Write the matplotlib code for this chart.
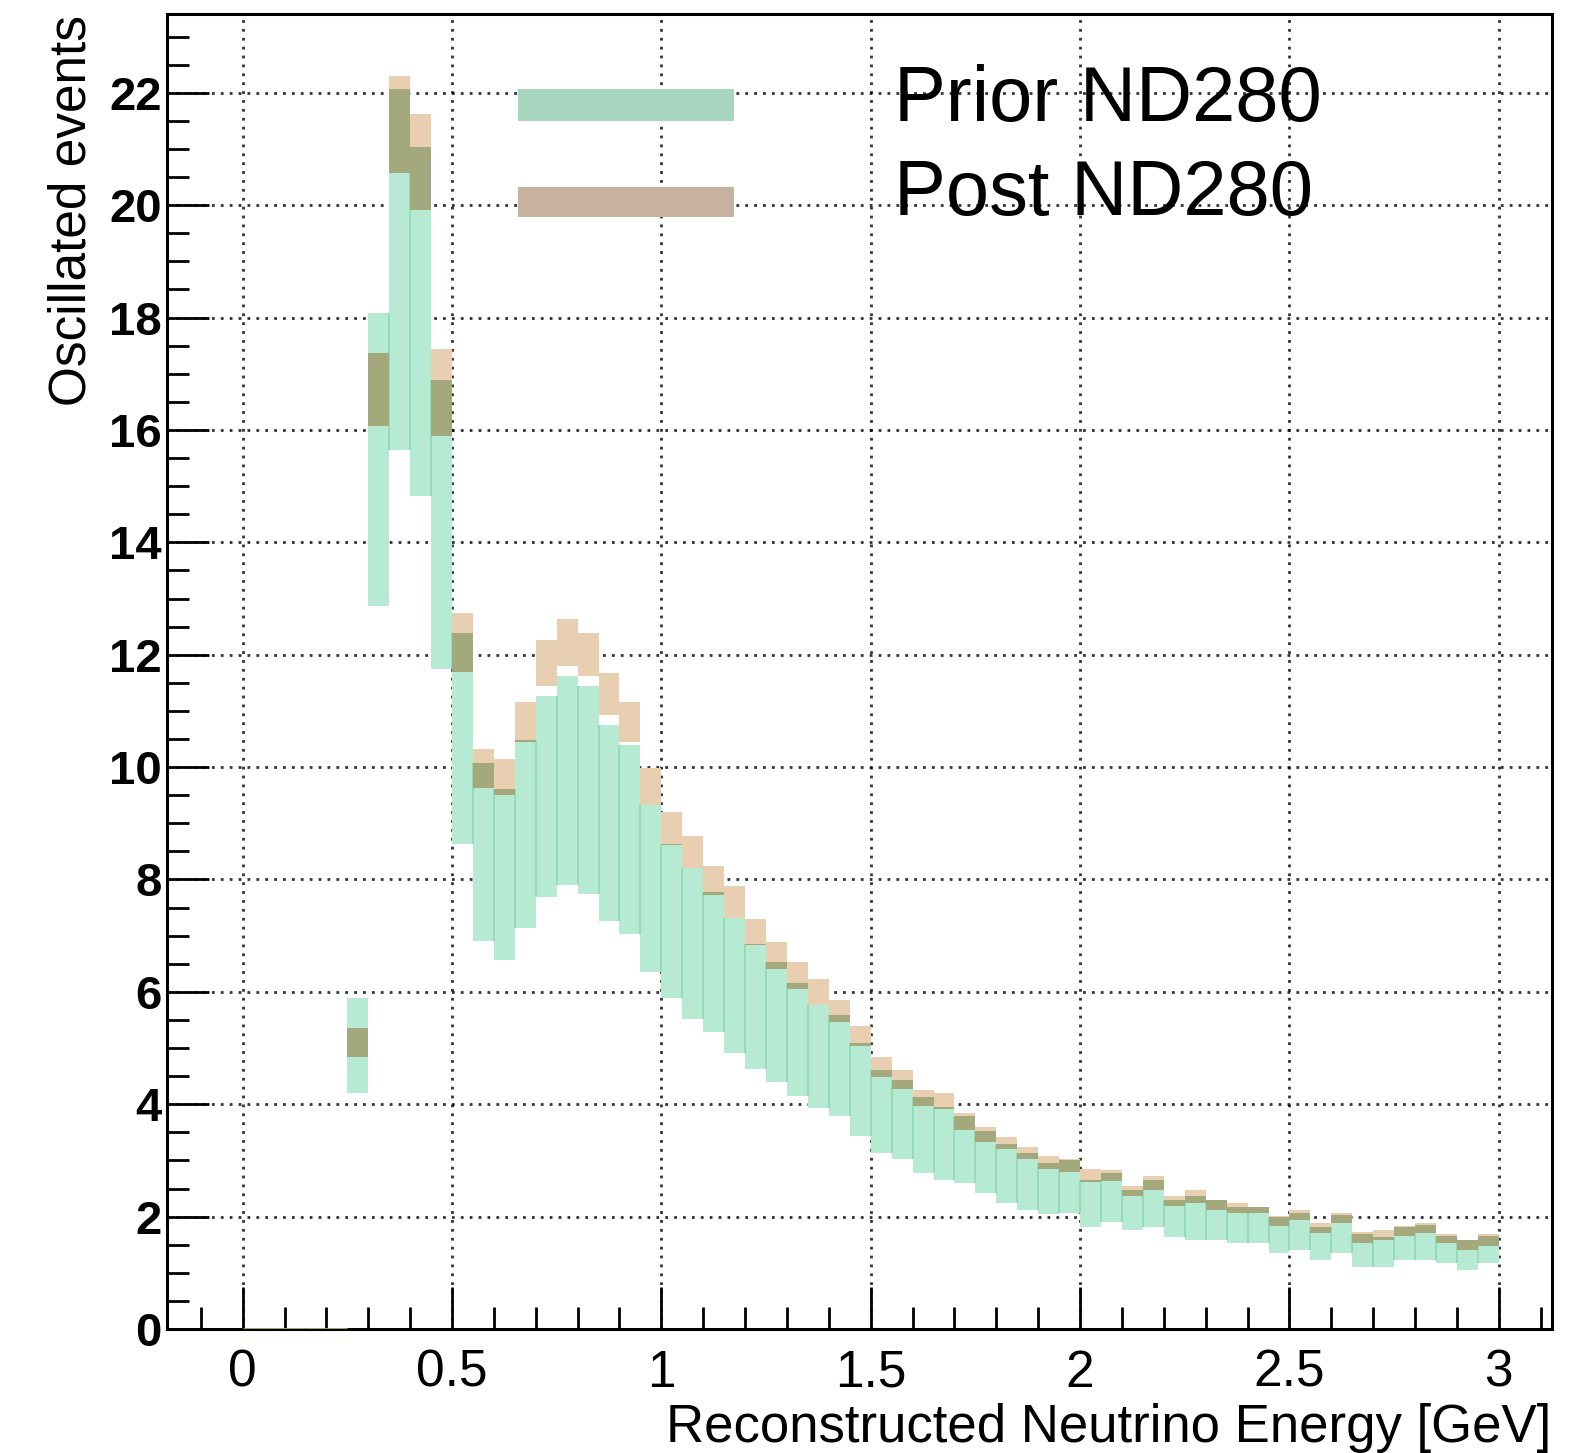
import numpy as np
import matplotlib
matplotlib.use("Agg")
import matplotlib.pyplot as plt
from matplotlib.patches import Rectangle
from matplotlib.ticker import MultipleLocator

# bins of 0.05 GeV from 0 to 3
bin_width = 0.05
bin_left = np.round(np.arange(0.0, 3.0, bin_width), 2)

prior_lo = [0, 0, 0, 0, 0,
            4.20, 12.87, 15.65, 14.83, 11.75, 8.63, 6.91, 6.56, 7.14, 7.68,
            7.90, 7.74, 7.27, 7.03, 6.36, 5.90, 5.52, 5.28, 4.92, 4.62,
            4.39, 4.14, 3.93, 3.79, 3.43, 3.14, 3.02, 2.78, 2.66, 2.60,
            2.42, 2.24, 2.11, 2.05, 2.06, 1.82, 1.91, 1.76, 1.82, 1.64,
            1.59, 1.59, 1.53, 1.53, 1.35, 1.40, 1.23, 1.35, 1.11, 1.11,
            1.23, 1.23, 1.17, 1.05, 1.17]
prior_hi = [0, 0, 0, 0, 0,
            5.89, 18.08, 22.06, 21.03, 16.89, 12.38, 10.08, 9.61, 10.49, 11.27,
            11.62, 11.44, 10.75, 10.39, 9.32, 8.63, 8.20, 7.77, 7.31, 6.86,
            6.53, 6.16, 5.76, 5.58, 5.09, 4.61, 4.43, 4.13, 3.96, 3.80,
            3.53, 3.30, 3.14, 2.95, 3.00, 2.66, 2.78, 2.47, 2.66, 2.30,
            2.36, 2.29, 2.17, 2.17, 2.00, 2.06, 1.82, 2.03, 1.70, 1.64,
            1.81, 1.85, 1.65, 1.58, 1.65]
post_lo = [0, 0, 0, 0, 0,
           4.85, 16.07, 20.57, 19.92, 15.89, 11.69, 9.63, 9.50, 10.45, 11.44,
           11.80, 11.62, 10.92, 10.45, 9.32, 8.62, 8.20, 7.72, 7.31, 6.83,
           6.41, 6.05, 5.76, 5.46, 5.04, 4.49, 4.27, 3.97, 3.91, 3.55,
           3.32, 3.20, 3.02, 2.85, 2.80, 2.62, 2.63, 2.37, 2.48, 2.19,
           2.25, 2.12, 2.06, 2.06, 1.83, 1.94, 1.71, 1.89, 1.53, 1.58,
           1.65, 1.71, 1.53, 1.41, 1.47]
post_hi = [0, 0, 0, 0, 0,
           5.36, 17.37, 22.29, 21.63, 17.44, 12.74, 10.32, 10.15, 11.15, 12.27,
           12.63, 12.39, 11.68, 11.15, 9.98, 9.21, 8.78, 8.24, 7.89, 7.29,
           6.89, 6.53, 6.23, 5.86, 5.39, 4.85, 4.61, 4.26, 4.20, 3.84,
           3.60, 3.42, 3.24, 3.08, 3.02, 2.84, 2.83, 2.54, 2.72, 2.36,
           2.48, 2.30, 2.24, 2.18, 2.02, 2.12, 1.89, 2.06, 1.72, 1.77,
           1.83, 1.89, 1.70, 1.59, 1.70]

legend_labels = ["Prior ND280", "Post ND280"]

green = "#B7EAD3"
green_edge = "#8FD9B6"
tan = "#E9CFB2"
olive = "#A3A87D"

fig = plt.figure(figsize=(15.93, 14.53), dpi=100)
ax = fig.add_axes([0.105, 0.0853, 0.869, 0.905])

plo = np.array(prior_lo); phi = np.array(prior_hi)
qlo = np.array(post_lo); qhi = np.array(post_hi)

# prior band
ax.bar(bin_left, phi - plo, bottom=plo, width=bin_width, align="edge",
       color=green, linewidth=0, zorder=2)
# posterior band
ax.bar(bin_left, qhi - qlo, bottom=qlo, width=bin_width, align="edge",
       color=tan, linewidth=0, zorder=3)
# overlap region
ov_lo = np.maximum(plo, qlo)
ov_hi = np.minimum(phi, qhi)
ov_h = np.clip(ov_hi - ov_lo, 0, None)
ax.bar(bin_left, ov_h, bottom=ov_lo, width=bin_width, align="edge",
       color=olive, linewidth=0, zorder=4)

# faint lines at bin boundaries inside the prior band
for i in range(1, len(bin_left)):
    lo = max(plo[i], plo[i - 1])
    hi = min(phi[i], phi[i - 1])
    if hi > lo:
        ax.vlines(bin_left[i], lo, hi, color=green_edge, lw=1.2, zorder=2.5)

# empty bins show as a thin line at zero
zero = (phi == 0) & (qhi == 0)
ax.hlines(np.zeros(zero.sum()), bin_left[zero], bin_left[zero] + bin_width,
          color="#B5B84A", lw=2, zorder=5)

ax.set_xlim(-0.18, 3.126)
ax.set_ylim(0, 23.4)

ax.xaxis.set_major_locator(MultipleLocator(0.5))
ax.xaxis.set_minor_locator(MultipleLocator(0.1))
ax.yaxis.set_major_locator(MultipleLocator(2))
ax.yaxis.set_minor_locator(MultipleLocator(0.5))

ax.grid(True, which="major", color="black", linestyle=(0, (1, 2.2)), lw=2.0, alpha=0.8, zorder=1)
ax.set_axisbelow(True)

ax.tick_params(which="both", direction="in", top=False, right=False, width=2)
ax.tick_params(which="major", length=30)
ax.tick_params(which="minor", length=16)
ax.tick_params(axis="y", pad=4)
ax.tick_params(axis="x", pad=14)

xfam = ["Liberation Sans Narrow", "Liberation Sans", "DejaVu Sans"]
yfam = ["Liberation Sans", "DejaVu Sans"]

ax.set_xticks([0, 0.5, 1, 1.5, 2, 2.5, 3])
ax.set_xticklabels(["0", "0.5", "1", "1.5", "2", "2.5", "3"], family=xfam, fontsize=37)
yt = list(range(0, 23, 2))
ax.set_yticks(yt)
ax.set_yticklabels([str(v) for v in yt], family=yfam, fontsize=34, fontweight="bold")

for s in ax.spines.values():
    s.set_linewidth(2.2)

ax.set_xlabel("Reconstructed Neutrino Energy [GeV]", family=xfam, fontsize=38,
              loc="right", labelpad=4)
fig.text(0.045, 0.990, "Oscillated events", family=xfam, fontsize=37,
         rotation=90, ha="center", va="top")

# legend drawn by hand in axes coordinates
ax.add_patch(Rectangle((0.2536, 0.919), 0.156, 0.024, transform=ax.transAxes,
                       color="#A8D5BF", lw=0, zorder=6))
ax.add_patch(Rectangle((0.2536, 0.8456), 0.156, 0.0228, transform=ax.transAxes,
                       color="#C6B29F", lw=0, zorder=6))
ax.text(0.525, 0.919, legend_labels[0], transform=ax.transAxes, fontsize=56,
        family=yfam, va="baseline", ha="left", zorder=7)
ax.text(0.525, 0.847, legend_labels[1], transform=ax.transAxes, fontsize=56,
        family=yfam, va="baseline", ha="left", zorder=7)

fig.savefig("out.png", dpi=100)
